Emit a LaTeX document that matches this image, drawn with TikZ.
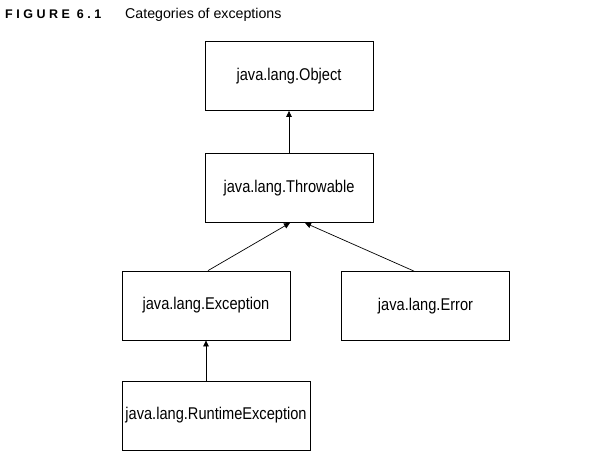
\documentclass[tikz,border=0pt]{standalone}
\usepackage{fontspec}
\usepackage{tikz}
\usetikzlibrary{arrows.meta}
\setmainfont{Liberation Sans}
\newfontfamily\boxfont{Liberation Sans}[FakeStretch=0.86]
\newfontfamily\figfont{Liberation Sans Bold}[LetterSpace=28]
\tikzstyle{classbox} = [
    draw=black,
    line width=0.8pt,
    rectangle,
    minimum width=168pt,
    minimum height=69pt,
    inner sep=0pt,
    font=\boxfont\fontsize{17}{20}\selectfont
    ]
\tikzstyle{inherits} = [
    line width=0.7pt,
    -{Triangle[length=6pt,width=5.5pt]}
    ]
\tikzstyle{figtitle} = [
    anchor=base west,
    inner sep=0pt
    ]

\begin{document}
\begin{tikzpicture}[x=1pt,y=1pt]
\useasboundingbox (0,0) rectangle (597,-459);
% caption
\node[figtitle, font=\figfont\fontsize{12.5}{14}\selectfont] (fignum) at (5,-18) {FIGURE 6.1};
\node[figtitle, font=\fontsize{14.2}{16}\selectfont] (figcaption) at (125,-18) {Categories of exceptions};
% class hierarchy
\node[classbox] (object) at (289,-76) {java.lang.Object};
\node[classbox] (throwable) at (289,-188) {java.lang.Throwable};
\node[classbox] (exception) at (206,-305.5) {java.lang.Exception};
\node[classbox] (error) at (425.5,-306) {java.lang.Error};
\node[classbox, minimum width=188pt] (runtime) at (216,-415.5) {java.lang.RuntimeException};
% arrows
\draw[inherits] (throwable.north) -- (object.south);
\draw[inherits] ([xshift=2pt]exception.north) -- ([xshift=1pt]throwable.south);
\draw[inherits] ([xshift=-11.5pt]error.north) -- ([xshift=16pt]throwable.south);
\draw[inherits] ([xshift=-10pt]runtime.north) -- (exception.south);
\end{tikzpicture}
\end{document}
